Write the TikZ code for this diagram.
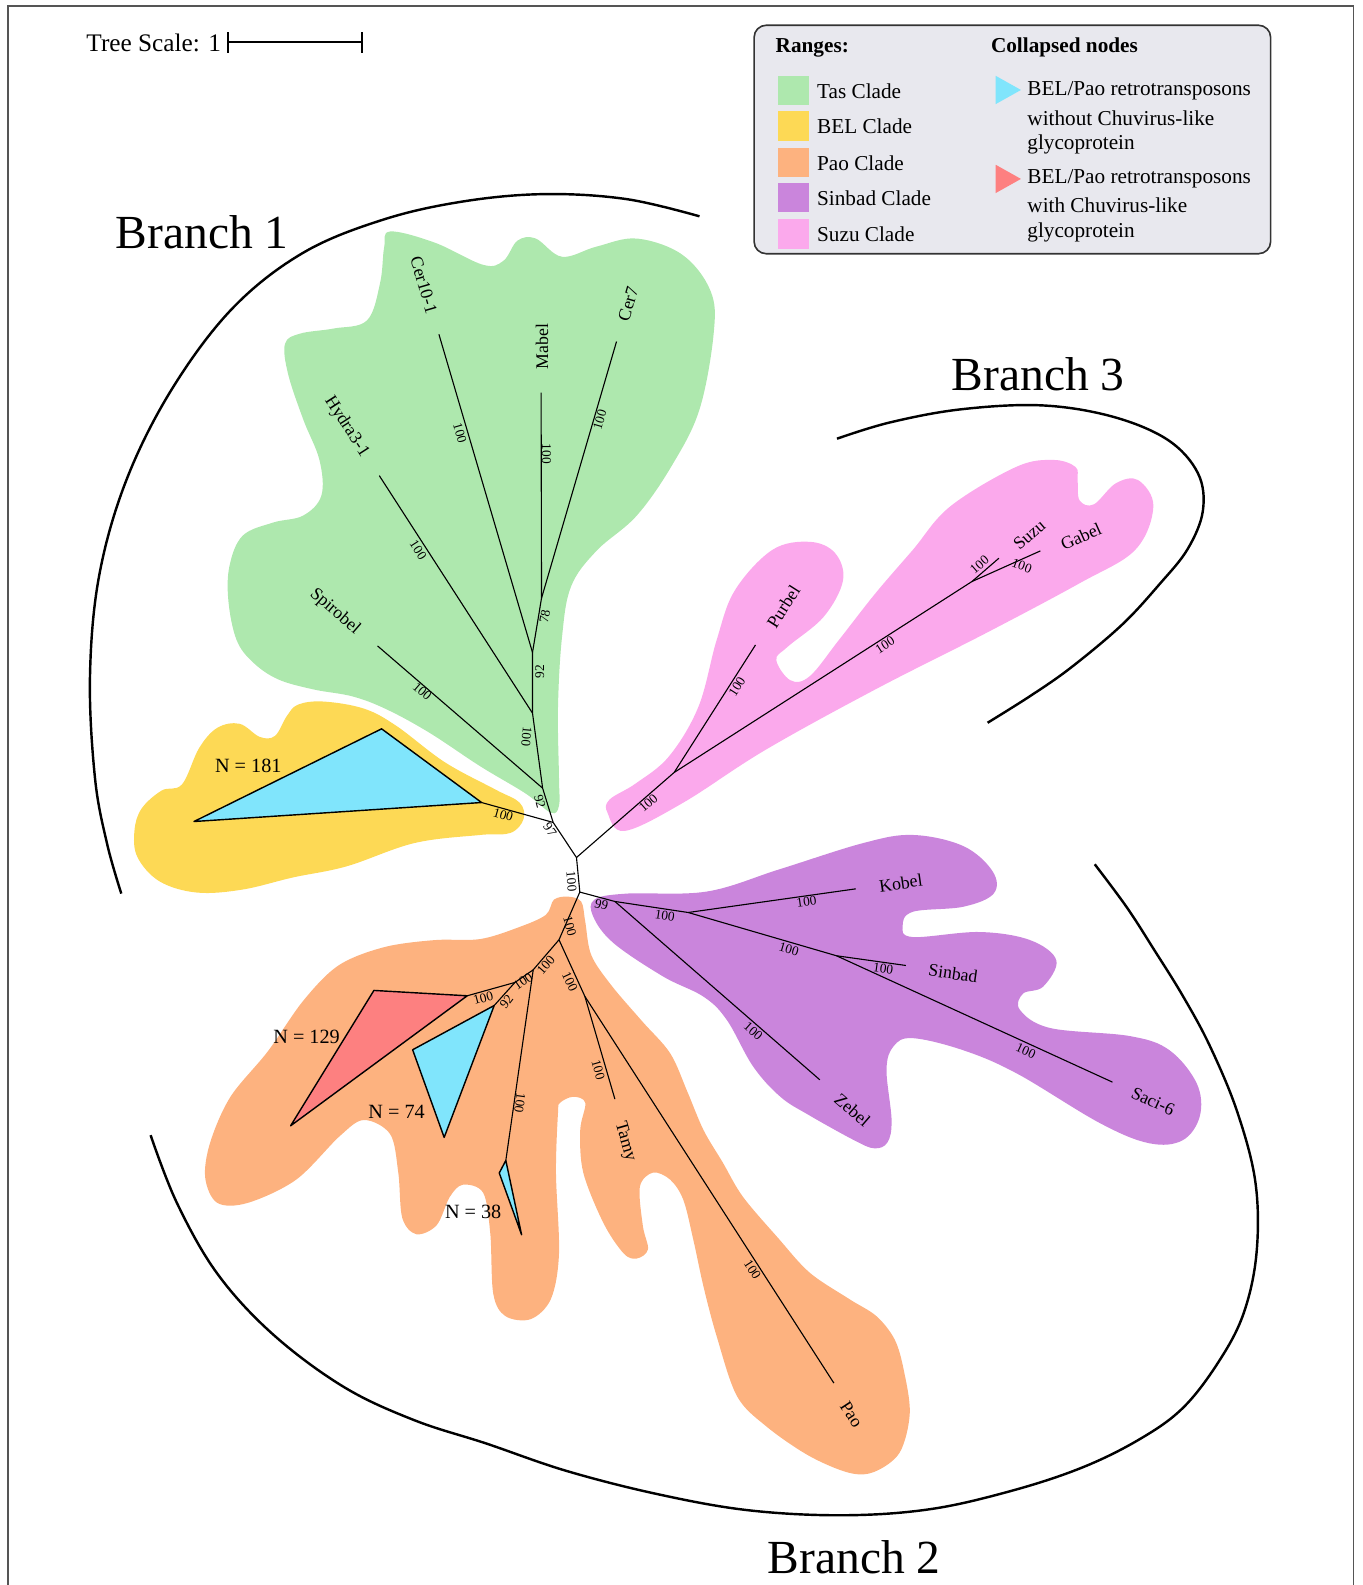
\documentclass[tikz,border=0pt]{standalone}
\usepackage{fontspec}
\setmainfont{Liberation Serif}
\definecolor{tas}{HTML}{AEE8AE}
\definecolor{bel}{HTML}{FDD955}
\definecolor{pao}{HTML}{FDB27F}
\definecolor{sinbad}{HTML}{CA85DC}
\definecolor{suzu}{HTML}{FBA9EC}
\definecolor{cblue}{HTML}{80E5FC}
\definecolor{cred}{HTML}{FD8080}
\definecolor{legbg}{HTML}{E8E8EE}
\definecolor{framegray}{HTML}{555555}
\begin{document}
\begin{tikzpicture}[x=0.5pt,y=-0.5pt,
  edge/.style={line width=0.55pt},
  bs/.style={font=\fontsize{6.6}{7}\selectfont, inner sep=0pt},
  leaf/.style={font=\fontsize{8.8}{10}\selectfont, inner sep=0pt},
  nlab/.style={font=\fontsize{10}{12}\selectfont, inner sep=0pt},
  arcline/.style={line width=1.2pt},
  branchlab/.style={font=\fontsize{23.5}{28}\selectfont, inner sep=0pt},
  collapsed/.style={draw=black, line width=0.7pt, line join=round},
  legtext/.style={font=\fontsize{10.5}{12}\selectfont, inner sep=0pt, anchor=west},
  legbold/.style={font=\fontsize{10.5}{12}\selectfont\bfseries, inner sep=0pt, anchor=west}]
\useasboundingbox (0,0) rectangle (1348,1568);
% frame
\draw[framegray, line width=0.6pt] (8,1568) -- (8,6) -- (1339,6) -- (1339,1568);

% ---------- clade ranges ----------
\fill[tas] plot[smooth cycle, tension=0.6] coordinates {
(386,229) (430,240) (478,262) (498,258) (512,238) (530,236) (556,254) (590,244) (630,236)
(675,252) (703,288) (706,330) (692,405) (665,460) (630,510) (590,545) (565,580) (556,630)
(552,700) (553,770) (553,797) (545,804) (520,785) (475,758) (425,725) (383,702) (349,689)
(310,682) (275,672) (250,655) (234,633) (226,595) (227,560) (240,530) (270,517) (300,510)
(318,490) (316,455) (300,415) (285,370) (282,340) (297,330) (330,325) (363,317) (376,280) (380,245)};

\fill[bel] plot[smooth cycle, tension=0.6] coordinates {
(140,800) (160,782) (180,776) (197,740) (215,720) (237,716) (257,729) (272,728) (284,708)
(295,697) (320,694) (360,701) (392,718) (440,754) (490,781) (514,794) (518,810) (505,824)
(475,826) (410,834) (343,857) (290,868) (240,880) (195,883) (158,872) (136,848) (133,822)};

\fill[suzu] plot[smooth cycle, tension=0.6] coordinates {
(601,804) (618,822) (676,794) (757,742) (866,682) (976,626) (1068,577) (1123,544) (1141,501)
(1126,475) (1104,478) (1082,499) (1068,495) (1066,475) (1064,462) (1042,455) (1005,462)
(940,501) (903,544) (866,587) (830,633) (801,669) (782,673) (768,653) (779,640) (815,610)
(834,574) (826,547) (801,536) (764,544) (727,584) (709,633) (691,699) (662,748) (629,775) (603,791)};

\fill[sinbad] plot[smooth cycle, tension=0.6] coordinates {
(588,890) (620,884) (699,882) (771,860) (854,834) (903,826) (953,837) (982,862) (983,884)
(953,897) (903,902) (893,916) (903,927) (969,922) (1019,930) (1045,950) (1032,976) (1012,983)
(1009,999) (1039,1017) (1118,1025) (1157,1039) (1184,1072) (1187,1104) (1170,1128) (1137,1131)
(1088,1111) (1006,1062) (953,1039) (903,1027) (884,1035) (877,1058) (882,1108) (878,1130)
(865,1136) (845,1128) (800,1103) (772,1085) (745,1055) (719,1009) (696,986) (656,966) (607,933) (587,907)};

\fill[pao] plot[smooth cycle, tension=0.55] coordinates {
(548,890) (562,887) (575,892) (579,912) (585,945) (605,975) (635,1010) (663,1042) (680,1080)
(696,1118) (715,1150) (735,1184) (770,1225) (801,1259) (840,1285) (867,1302) (885,1325)
(894,1355) (900,1398) (890,1437) (865,1456) (840,1457) (800,1440) (758,1411) (729,1381)
(709,1322) (696,1273) (686,1227) (676,1187) (663,1167) (646,1160) (633,1174) (636,1213)
(641,1236) (630,1245) (617,1240) (597,1210) (577,1160) (574,1118) (579,1091) (567,1085)
(554,1091) (552,1101) (550,1160) (553,1240) (545,1285) (525,1305) (500,1302) (488,1280)
(485,1220) (478,1180) (458,1172) (445,1184) (432,1212) (412,1221) (398,1205) (394,1160)
(386,1122) (360,1108) (336,1124) (293,1167) (245,1190) (215,1190) (203,1165) (208,1130)
(228,1085) (265,1040) (300,990) (335,955) (380,937) (430,930) (475,929) (514,917) (540,905)};

% ---------- collapsed triangles ----------
\coordinate (belT) at (476.4,793.9);
\coordinate (redT) at (462.2,985.1);
\coordinate (blueT) at (488.9,994.7);
\coordinate (n38T) at (500.4,1148);
\filldraw[collapsed, fill=cblue] (belT) -- (377.5,721) -- (191.9,812.7) -- cycle;
\filldraw[collapsed, fill=cred] (redT) -- (369.9,979.8) -- (287.5,1113.7) -- cycle;
\filldraw[collapsed, fill=cblue] (blueT) -- (408.2,1038.5) -- (439.4,1125.2) -- cycle;
\filldraw[collapsed, fill=cblue] (n38T) -- (493.9,1160.4) -- (516,1221.5) -- cycle;

% ---------- tree nodes ----------
\coordinate (A) at (570.3,848.3);
\coordinate (B) at (573.6,882.5);
\coordinate (C) at (547.2,813.6);
\coordinate (T1) at (536.8,779.7);
\coordinate (T2) at (526.8,705.5);
\coordinate (T3) at (526.8,645.5);
\coordinate (T4) at (535.7,591.8);
\coordinate (lSpiro) at (373.5,639);
\coordinate (lHydra) at (375.2,470.5);
\coordinate (lCer10) at (434.2,330.7);
\coordinate (lMabel) at (535.3,388.4);
\coordinate (lCer7) at (609.9,337.9);
\coordinate (P) at (666.9,764.2);
\coordinate (PS) at (961.5,575.3);
\coordinate (lPurbel) at (747.4,638);
\coordinate (lSuzu) at (988.2,552.2);
\coordinate (lGabel) at (1029.2,545);
\coordinate (S1) at (608.3,891.8);
\coordinate (S2) at (680.8,902.7);
\coordinate (S3) at (827.5,945.5);
\coordinate (lZebel) at (811,1068.2);
\coordinate (lKobel) at (846.6,879.3);
\coordinate (lSinbad) at (896.1,955.1);
\coordinate (lSaci) at (1100.5,1070.5);
\coordinate (O1) at (553,929.7);
\coordinate (O2) at (527.5,959.4);
\coordinate (O3) at (578.6,985.7);
\coordinate (O4) at (509.4,971.9);
\coordinate (lTamy) at (608.3,1087.3);
\coordinate (lPao) at (824.9,1368.2);

\draw[edge, line join=round] (C) -- (A) -- (B);
\draw[edge] (A) -- (P);
\draw[edge] (C) -- (belT);
\draw[edge] (C) -- (T1) -- (T2) -- (T3) -- (T4) -- (lMabel);
\draw[edge] (T4) -- (lCer7);
\draw[edge] (T3) -- (lCer10);
\draw[edge] (T2) -- (lHydra);
\draw[edge] (T1) -- (lSpiro);
\draw[edge] (P) -- (lPurbel);
\draw[edge] (P) -- (PS) -- (lSuzu);
\draw[edge] (PS) -- (lGabel);
\draw[edge] (B) -- (S1) -- (S2) -- (S3) -- (lSaci);
\draw[edge] (S1) -- (lZebel);
\draw[edge] (S2) -- (lKobel);
\draw[edge] (S3) -- (lSinbad);
\draw[edge] (B) -- (O1) -- (O3) -- (lPao);
\draw[edge] (O3) -- (lTamy);
\draw[edge] (O1) -- (O2) -- (O4) -- (redT);
\draw[edge] (O4) -- (blueT);
\draw[edge] (O2) -- (n38T);

% ---------- leaf labels ----------
\node[leaf, rotate=-73.6] (tCer10) at (419.3,281.9) {Cer10-1};
\node[leaf, rotate=90] (tMabel) at (536.3,342.9) {Mabel};
\node[leaf, rotate=73.7] (tCer7) at (621.4,300.7) {Cer7};
\node[leaf, rotate=-57.2] (tHydra) at (342.9,422) {Hydra3-1};
\node[leaf, rotate=-40.8] (tSpiro) at (331.3,605) {Spirobel};
\node[leaf, rotate=57.5] (tPurbel) at (775,600) {Purbel};
\node[leaf, rotate=40.9] (tSuzu) at (1018.2,529.1) {Suzu};
\node[leaf, rotate=24] (tGabel) at (1069.5,530.8) {Gabel};
\node[leaf, rotate=8] (tKobel) at (891.1,873.6) {Kobel};
\node[leaf, rotate=-8] (tSinbad) at (942.9,962.7) {Sinbad};
\node[leaf, rotate=-41] (tZebel) at (843.3,1097.8) {Zebel};
\node[leaf, rotate=-24.6] (tSaci) at (1140.7,1089.6) {Saci-6};
\node[leaf, rotate=-74] (tTamy) at (618.2,1129.2) {Tamy};
\node[leaf, rotate=-57] (tPao) at (842.4,1399.5) {Pao};

% ---------- N labels ----------
\node[nlab] (n181) at (245.6,757.6) {N = 181};
\node[nlab] (n129) at (303.3,1025.3) {N = 129};
\node[nlab] (n74) at (392.3,1100.1) {N = 74};
\node[nlab] (n38) at (468.1,1198.4) {N = 38};

% ---------- bootstrap values ----------
\node[bs, rotate=-73.6] (b1) at (455,428.6) {100};
\node[bs, rotate=-90] (b2) at (540.7,449) {100};
\node[bs, rotate=73.7] (b3) at (593.4,415.4) {100};
\node[bs, rotate=-57.2] (b4) at (413.7,544) {100};
\node[bs, rotate=80] (b5) at (539,610) {78};
\node[bs, rotate=90] (b6) at (534,664.3) {92};
\node[bs, rotate=-95] (b7) at (520.9,728.6) {100};
\node[bs, rotate=-40.8] (b8) at (417.7,684) {100};
\node[bs, rotate=-75] (b9) at (534,792.9) {92};
\node[bs, rotate=-55] (b10) at (544,821) {97};
\node[bs, rotate=-16] (b11) at (497.8,806) {100};
\node[bs, rotate=-85] (b12) at (565.4,872) {100};
\node[bs, rotate=41] (b13) at (641.3,794.5) {100};
\node[bs, rotate=57.5] (b14) at (729.1,679.1) {100};
\node[bs, rotate=32.7] (b15) at (875.5,638) {100};
\node[bs, rotate=40.9] (b16) at (968.9,558.8) {100};
\node[bs, rotate=-20] (b17) at (1010.9,559.8) {100};
\node[bs, rotate=-15] (b18) at (595.1,895) {99};
\node[bs, rotate=-8.5] (b19) at (657.7,906) {100};
\node[bs, rotate=8] (b20) at (797.8,891.8) {100};
\node[bs, rotate=-16.3] (b21) at (780.4,938.9) {100};
\node[bs, rotate=-8] (b22) at (873.7,958.4) {100};
\node[bs, rotate=-41.6] (b23) at (745.1,1020.3) {100};
\node[bs, rotate=-24.6] (b24) at (1014.8,1039.5) {100};
\node[bs, rotate=-75] (b25) at (563.7,916.5) {100};
\node[bs, rotate=-65] (b26) at (563.7,970.9) {100};
\node[bs, rotate=-74] (b27) at (591.8,1058.3) {100};
\node[bs, rotate=-57] (b28) at (744.4,1256.1) {100};
\node[bs, rotate=49] (b29) at (540,954.4) {100};
\node[bs, rotate=34.6] (b30) at (517.6,970.9) {100};
\node[bs, rotate=-98] (b31) at (514.3,1091.2) {100};
\node[bs, rotate=15] (b32) at (478,987.4) {100};
\node[bs, rotate=52] (b33) at (501.1,990.7) {92};

% ---------- branch arcs ----------
\draw[arcline] plot[smooth, tension=0.6] coordinates {
(692,214) (620,197) (540,192) (460,199) (380,217) (300,250) (230,305) (170,385) (125,475)
(98,570) (89,670) (94,770) (106,835) (120,884)};
\draw[arcline] plot[smooth, tension=0.6] coordinates {
(828,434) (880,418) (950,405) (1030,401) (1100,412) (1155,435) (1185,468) (1190,505)
(1175,543) (1147,578) (1110,618) (1060,660) (1020,688) (977,715)};
\draw[arcline] plot[smooth, tension=0.6] coordinates {
(149,1123) (175,1190) (215,1260) (270,1320) (340,1372) (410,1405) (481,1428) (560,1455)
(650,1478) (740,1494) (834,1499) (920,1493) (1000,1475) (1070,1452) (1127,1424) (1170,1393)
(1205,1348) (1230,1300) (1243,1240) (1242,1170) (1224,1100) (1197,1035) (1170,985) (1142,940)
(1115,898) (1083,855)};
\node[branchlab] (br1) at (200,230) {Branch 1};
\node[branchlab] (br3) at (1027,370) {Branch 3};
\node[branchlab] (br2) at (845,1541) {Branch 2};

% ---------- tree scale ----------
\node[font=\fontsize{12.5}{14}\selectfont, inner sep=0pt, anchor=east] (tscale) at (219,42) {Tree Scale: 1};
\coordinate (sc1) at (226,42);
\coordinate (sc2) at (358,42);
\draw[line width=1pt] (sc1) -- (sc2);
\draw[line width=1pt] ([yshift=-5]sc1) -- ([yshift=5]sc1);
\draw[line width=1pt] ([yshift=-5]sc2) -- ([yshift=5]sc2);

% ---------- legend ----------
\draw[fill=legbg, draw=black!80, line width=0.8pt, rounded corners=6pt] (746,25) rectangle (1257,251);
\node[legbold] (lr) at (767,47) {Ranges:};
\node[legbold] (lc) at (980,47) {Collapsed nodes};
\fill[tas] (770,75) rectangle (800,104);
\fill[bel] (770,110) rectangle (800,139);
\fill[pao] (770,146) rectangle (800,175);
\fill[sinbad] (770,181) rectangle (800,210);
\fill[suzu] (770,217) rectangle (800,246);
\node[legtext] (lt1) at (808,90) {Tas Clade};
\node[legtext] (lt2) at (808,125) {BEL Clade};
\node[legtext] (lt3) at (808,161) {Pao Clade};
\node[legtext] (lt4) at (808,196) {Sinbad Clade};
\node[legtext] (lt5) at (808,232) {Suzu Clade};
\fill[cblue] (985,75) -- (1010,89) -- (985,103) -- cycle;
\fill[cred] (985,163) -- (1010,177) -- (985,191) -- cycle;
\node[legtext] (lb1) at (1016,90) {BEL/Pao retrotransposons};
\node[legtext] (lb2) at (1016,117) {without Chuvirus-like};
\node[legtext] (lb3) at (1016,143) {glycoprotein};
\node[legtext] (lc1) at (1016,177) {BEL/Pao retrotransposons};
\node[legtext] (lc2) at (1016,203) {with Chuvirus-like};
\node[legtext] (lc3) at (1016,230) {glycoprotein};
\end{tikzpicture}
\end{document}
